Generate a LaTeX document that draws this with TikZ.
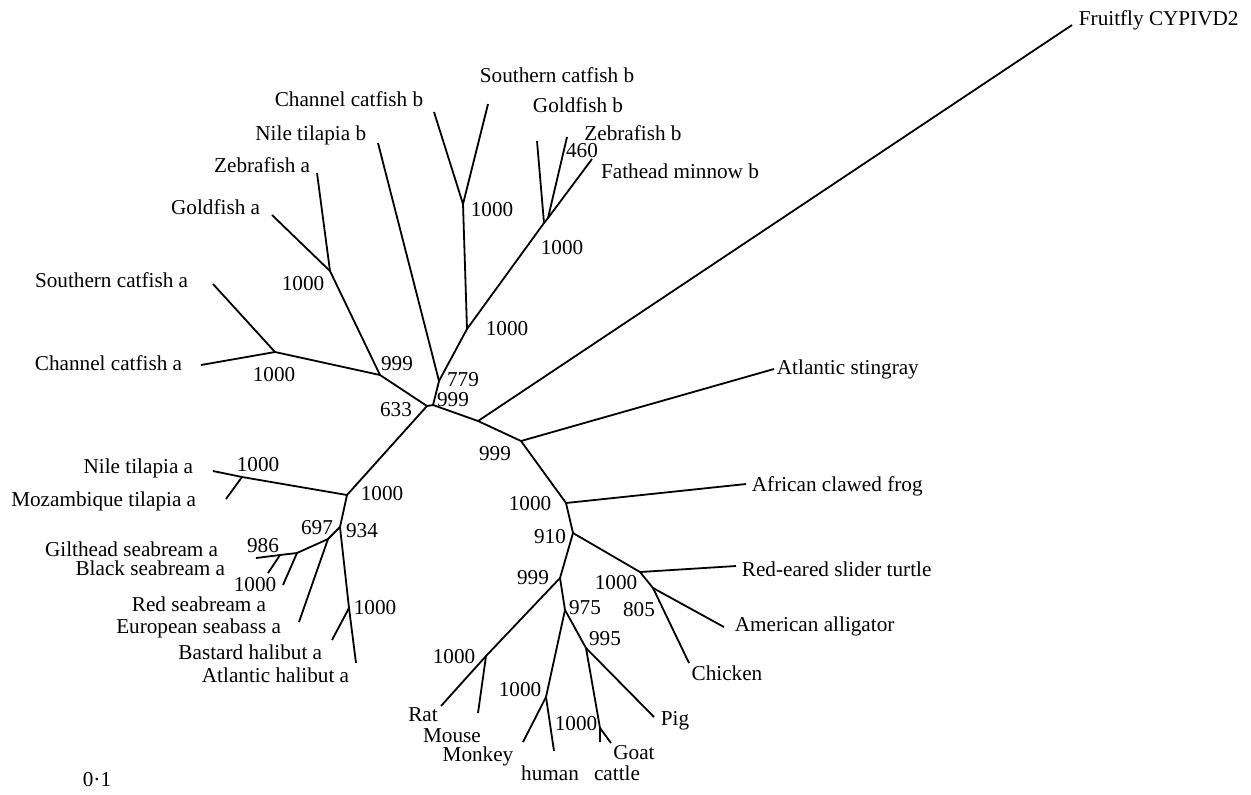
\documentclass[tikz,border=0pt]{standalone}
\usepackage{fontspec}
\setmainfont{Liberation Serif}
\usepackage{tikz}
\usetikzlibrary{positioning}
\tikzset{
    taxon/.style={inner sep=0pt, font=\fontsize{10.6}{12.7}\selectfont},
    boot/.style={inner sep=0pt, font=\fontsize{10.6}{12.7}\selectfont}
}

\begin{document}
\begin{tikzpicture}[x=0.5pt, y=-0.5pt, line width=0.9pt]
    \useasboundingbox (0,0) rectangle (1251,794);

    % Inner nodes of the tree
    \coordinate (c0) at (433,405);
    \coordinate (c1) at (427,406);
    \coordinate (nSil) at (380,375);
    \coordinate (nCatA) at (275,352);
    \coordinate (nCypA) at (330,271);
    \coordinate (nB) at (439,381);
    \coordinate (nBB) at (467,329);
    \coordinate (nCatB) at (463,204);
    \coordinate (nCypB) at (544,223);
    \coordinate (nZfB) at (548,218);
    \coordinate (nFly) at (478,421);
    \coordinate (nRay) at (521,441);
    \coordinate (nFrog) at (566,503);
    \coordinate (nAmn) at (573,533);
    \coordinate (nRept) at (640,572);
    \coordinate (nArch) at (653,588);
    \coordinate (nMam) at (560,578);
    \coordinate (nEuth) at (565,610);
    \coordinate (nUng) at (586,648);
    \coordinate (nRod) at (486,656);
    \coordinate (nPrim) at (546,697);
    \coordinate (nBov) at (600,728);
    \coordinate (nPerc) at (347,495);
    \coordinate (nTil) at (242,477);
    \coordinate (nMor) at (340,527);
    \coordinate (nSpar) at (328,539);
    \coordinate (nSb) at (297,553);
    \coordinate (nSbB) at (280,555);
    \coordinate (nHal) at (349,608);

    % Leaf tips
    \coordinate (tFly) at (1072,25);
    \coordinate (tScB) at (488,104);
    \coordinate (tCcB) at (434,112);
    \coordinate (tGfB) at (537,141);
    \coordinate (tZfB) at (567,137);
    \coordinate (tFmB) at (592,159);
    \coordinate (tNtB) at (378,143);
    \coordinate (tZfA) at (317,173);
    \coordinate (tGfA) at (272,215);
    \coordinate (tScA) at (213,284);
    \coordinate (tCcA) at (201,365);
    \coordinate (tRay) at (774,369);
    \coordinate (tFrog) at (746,484);
    \coordinate (tTurt) at (736,566);
    \coordinate (tAll) at (724,627);
    \coordinate (tChick) at (689,663);
    \coordinate (tPig) at (654,717);
    \coordinate (tGoat) at (611,743);
    \coordinate (tCattle) at (600,742);
    \coordinate (tHum) at (554,751);
    \coordinate (tMonk) at (523,742);
    \coordinate (tMouse) at (478,713);
    \coordinate (tRat) at (441,706);
    \coordinate (tNtA) at (213,471);
    \coordinate (tMoz) at (226,499);
    \coordinate (tGilt) at (256,558);
    \coordinate (tBlack) at (268,573);
    \coordinate (tRed) at (283,585);
    \coordinate (tEuro) at (299,622);
    \coordinate (tBast) at (332,640);
    \coordinate (tAtl) at (356,663);

    % Branches
    \draw (c1) -- (c0) -- (nFly) -- (nRay) -- (nFrog) -- (nAmn) -- (nMam) -- (nEuth) -- (nUng) -- (nBov) -- (tCattle);
    \draw (nFly) -- (tFly);
    \draw (nRay) -- (tRay);
    \draw (nFrog) -- (tFrog);
    \draw (nAmn) -- (nRept) -- (tTurt);
    \draw (nRept) -- (nArch) -- (tAll);
    \draw (nArch) -- (tChick);
    \draw (nUng) -- (tPig);
    \draw (nBov) -- (tGoat);
    \draw (nEuth) -- (nPrim) -- (tMonk);
    \draw (nPrim) -- (tHum);
    \draw (nMam) -- (nRod) -- (tRat);
    \draw (nRod) -- (tMouse);
    \draw (c0) -- (nB) -- (tNtB);
    \draw (nB) -- (nBB) -- (nCatB) -- (tCcB);
    \draw (nCatB) -- (tScB);
    \draw (nBB) -- (nCypB) -- (tGfB);
    \draw (nCypB) -- (nZfB) -- (tZfB);
    \draw (nZfB) -- (tFmB);
    \draw (c1) -- (nSil) -- (nCatA) -- (tScA);
    \draw (nCatA) -- (tCcA);
    \draw (nSil) -- (nCypA) -- (tZfA);
    \draw (nCypA) -- (tGfA);
    \draw (c1) -- (nPerc) -- (nTil) -- (tNtA);
    \draw (nTil) -- (tMoz);
    \draw (nPerc) -- (nMor) -- (nSpar) -- (nSb) -- (nSbB) -- (tGilt);
    \draw (nSbB) -- (tBlack);
    \draw (nSb) -- (tRed);
    \draw (nSpar) -- (tEuro);
    \draw (nMor) -- (nHal) -- (tAtl);
    \draw (nHal) -- (tBast);

    % Taxon names
    \node[taxon, anchor=west] (lFly) at (1078,20) {Fruitfly CYPIVD2};
    \node[taxon] (lScB) at (557,75) {Southern catfish b};
    \node[taxon] (lCcB) at (349,99) {Channel catfish b};
    \node[taxon] (lGfB) at (578,105) {Goldfish b};
    \node[taxon] (lZfB) at (633,133) {Zebrafish b};
    \node[taxon] (lFmB) at (680,171) {Fathead minnow b};
    \node[taxon, anchor=east] (lNtB) at (367,135) {Nile tilapia b};
    \node[taxon, anchor=east] (lZfA) at (311,165) {Zebrafish a};
    \node[taxon, anchor=east] (lGfA) at (261,207) {Goldfish a};
    \node[taxon, anchor=east] (lScA) at (189,280) {Southern catfish a};
    \node[taxon, anchor=east] (lCcA) at (183,363) {Channel catfish a};
    \node[taxon, anchor=west] (lRay) at (776,369) {Atlantic stingray};
    \node[taxon, anchor=west] (lFrog) at (751,486) {African clawed frog};
    \node[taxon, anchor=west] (lTurt) at (741,569) {Red-eared slider turtle};
    \node[taxon, anchor=west] (lAll) at (734,626) {American alligator};
    \node[taxon] (lChick) at (727,673) {Chicken};
    \node[taxon] (lPig) at (675,721) {Pig};
    \node[taxon] (lGoat) at (634,753) {Goat};
    \node[taxon] (lCattle) at (617,773) {cattle};
    \node[taxon] (lHum) at (550,773) {human};
    \node[taxon] (lMonk) at (478,756) {Monkey};
    \node[taxon] (lMouse) at (452,736) {Mouse};
    \node[taxon] (lRat) at (423,715) {Rat};
    \node[taxon, anchor=east] (lNtA) at (194,468) {Nile tilapia a};
    \node[taxon, anchor=east] (lMoz) at (197,501) {Mozambique tilapia a};
    \node[taxon, anchor=east] (lGilt) at (219,549) {Gilthead seabream a};
    \node[taxon, anchor=east] (lBlack) at (226,568) {Black seabream a};
    \node[taxon, anchor=east] (lRed) at (267,604) {Red seabream a};
    \node[taxon, anchor=east] (lEuro) at (282,628) {European seabass a};
    \node[taxon, anchor=east] (lBast) at (323,652) {Bastard halibut a};
    \node[taxon, anchor=east] (lAtl) at (350,675) {Atlantic halibut a};
    \node[taxon] (lScale) at (97,780) {0\textperiodcentered 1};

    % Bootstrap values
    \node[boot] (bCatA) at (274,375) {1000};
    \node[boot] (bCypA) at (303,284) {1000};
    \node[boot] (bSil) at (397,364) {999};
    \node[boot] (bC1) at (396,410) {633};
    \node[boot] (bB) at (463,380) {779};
    \node[boot] (bC0) at (453,400) {999};
    \node[boot] (bCatB) at (492,210) {1000};
    \node[boot] (bCypB) at (562,248) {1000};
    \node[boot] (bZfB) at (582,151) {460};
    \node[boot] (bBB) at (507,329) {1000};
    \node[boot] (bRay) at (495,454) {999};
    \node[boot] (bFrog) at (530,504) {1000};
    \node[boot] (bAmn) at (550,537) {910};
    \node[boot] (bMam) at (533,578) {999};
    \node[boot] (bRept) at (616,583) {1000};
    \node[boot] (bArch) at (639,610) {805};
    \node[boot] (bEuth) at (585,608) {975};
    \node[boot] (bUng) at (605,639) {995};
    \node[boot] (bRod) at (454,657) {1000};
    \node[boot] (bPrim) at (520,690) {1000};
    \node[boot] (bBov) at (576,724) {1000};
    \node[boot] (bTil) at (258,465) {1000};
    \node[boot] (bPerc) at (382,494) {1000};
    \node[boot] (bSpar) at (317,528) {697};
    \node[boot] (bMor) at (362,531) {934};
    \node[boot] (bSbB) at (263,546) {986};
    \node[boot] (bSb) at (255,585) {1000};
    \node[boot] (bHal) at (375,608) {1000};
\end{tikzpicture}
\end{document}
